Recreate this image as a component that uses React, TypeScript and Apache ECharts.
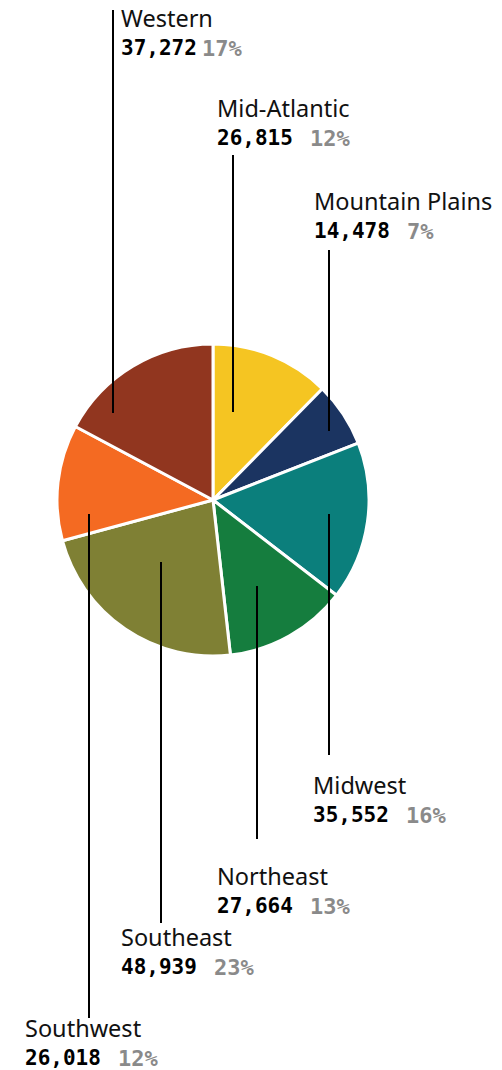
import React, { useEffect, useRef } from "react";
import * as echarts from "echarts";

// ---- data ----
const regions = ["Mid-Atlantic", "Mountain Plains", "Midwest", "Northeast", "Southeast", "Southwest", "Western"];
const counts = [26815, 14478, 35552, 27664, 48939, 26018, 37272];
const percents = [12, 7, 16, 13, 23, 12, 17];
const colors = ["#F5C522", "#1B3461", "#0B7F7C", "#157D3E", "#7F8034", "#F46A22", "#91361F"];

// ---- label placement (layout, not data) ----
// [labelLeft, labelTop, lineX, lineY1, lineY2, valueBoxWidth]
const labelSpec: number[][] = [
  [217, 93, 233, 412, 155, 93],
  [314, 186, 329, 431, 250, 91],
  [313, 770, 329, 514, 755, 93],
  [217, 861, 257, 586, 839, 93],
  [121, 922, 161, 562, 923, 92],
  [25, 1013, 89, 514, 1018, 92],
  [121, 3, 113, 413, 10, 81],
];

const fmt = (n: number) => n.toLocaleString("en-US");

export default function App() {
  const ref = useRef<HTMLDivElement>(null);
  useEffect(() => {
    if (!ref.current) return;
    const chart = echarts.init(ref.current, null, { renderer: "svg" });
    const slices = regions.map((name, i) => ({
      name,
      value: counts[i],
      itemStyle: { color: colors[i] },
    }));
    const labelData = regions.map((name, i) => ({ name, value: counts[i] }));
    const common = {
      type: "pie",
      center: [213, 500],
      radius: 156,
      startAngle: 90,
      clockwise: true,
      silent: true,
      emphasis: { disabled: true },
    };
    chart.setOption({
      animation: false,
      backgroundColor: "#ffffff",
      series: [
        {
          ...common,
          z: 2,
          data: slices,
          itemStyle: { borderColor: "#ffffff", borderWidth: 3 },
          label: { show: false },
          labelLine: { show: false },
        },
        {
          ...common,
          z: 5,
          data: labelData,
          itemStyle: { color: "rgba(0,0,0,0)", borderWidth: 0 },
          label: {
            show: true,
            position: "outside",
            overflow: "none",
            formatter: (p: any) => {
              const i = p.dataIndex;
              const box = labelSpec[i][5] >= 90 ? "val" : "valw";
              return `{name|${regions[i]}}\n{${box}|${fmt(counts[i])}}{pct|${percents[i]}%}`;
            },
            rich: {
              name: { fontFamily: "Noto Sans", fontSize: 23.5, color: "#111111", lineHeight: 30 },
              val: { fontFamily: "DejaVu Sans Mono", fontWeight: "bold", fontSize: 21, color: "#000000", lineHeight: 30, width: 93 },
              valw: { fontFamily: "DejaVu Sans Mono", fontWeight: "bold", fontSize: 21, color: "#000000", lineHeight: 30, width: 81 },
              pct: { fontFamily: "DejaVu Sans Mono", fontWeight: "bold", fontSize: 22, color: "#8a8a8a", lineHeight: 30 },
            },
          },
          labelLine: { show: true, lineStyle: { color: "#000000", width: 2 }, smooth: false },
          labelLayout: (params: any) => {
            const s = labelSpec[params.dataIndex];
            return {
              x: s[0],
              y: s[1],
              align: "left",
              verticalAlign: "top",
              labelLinePoints: [
                [s[2], s[3]],
                [s[2], s[4]],
                [s[2], s[4]],
              ],
            };
          },
        },
      ],
    } as any);
    return () => chart.dispose();
  }, []);
  return (
    <div
      ref={ref}
      style={{ position: "fixed", left: 0, top: 0, width: 502, height: 1070, background: "#fff" }}
    />
  );
}
